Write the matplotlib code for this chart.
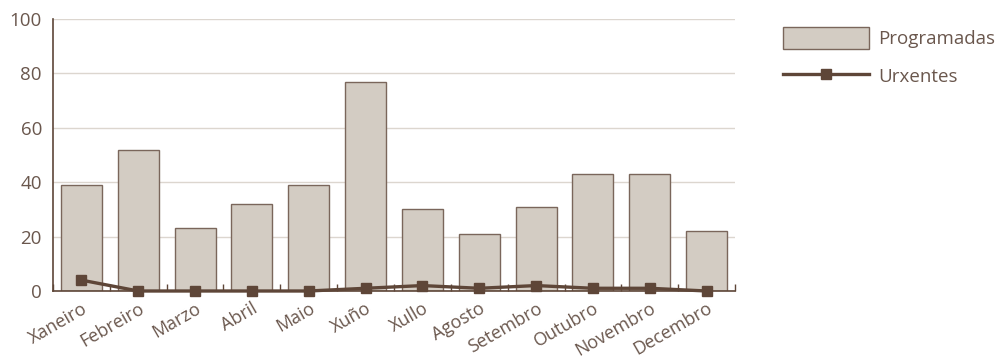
import numpy as np
import matplotlib.pyplot as plt

meses = ['Xaneiro', 'Febreiro', 'Marzo', 'Abril', 'Maio', 'Xuño',
         'Xullo', 'Agosto', 'Setembro', 'Outubro', 'Novembro', 'Decembro']
programadas = [39, 52, 23, 32, 39, 77, 30, 21, 31, 43, 43, 22]
urxentes = [4, 0, 0, 0, 0, 1, 2, 1, 2, 1, 1, 0]

txt = '#6a574d'
dark = '#5e4638'
plt.rcParams['font.family'] = ['Open Sans', 'DejaVu Sans']

fig = plt.figure(figsize=(9.98, 3.61), dpi=100)
ax = fig.add_axes([53/998, 1 - 291/361, (735-53)/998, (291-19)/361])

x = np.arange(len(meses))
b = ax.bar(x, programadas, width=0.72, color='#d3ccc3', edgecolor='#7a665b',
           linewidth=1.0, label='Programadas', zorder=2)
l, = ax.plot(x, urxentes, color=dark, linewidth=2.4, marker='s', markersize=6.5,
             label='Urxentes', zorder=3, clip_on=False)

ax.set_xlim(-0.5, len(meses) - 0.5)
ax.set_ylim(0, 100)
ax.set_yticks([0, 20, 40, 60, 80, 100])
ax.yaxis.grid(True, color='#dcd6cf', linewidth=1.0)
ax.set_axisbelow(True)
ax.tick_params(axis='y', length=0, pad=8, labelsize=13.5, labelcolor=txt)

ax.set_xticks(x)
ax.set_xticklabels(meses, rotation=30, ha='right', rotation_mode='anchor')
ax.tick_params(axis='x', which='major', length=0, pad=6, labelsize=13, labelcolor=txt)
ax.set_xticks(np.arange(-0.5, len(meses)), minor=True)
ax.tick_params(axis='x', which='minor', direction='in', length=5, color=dark, width=1)

for s in ['top', 'right']:
    ax.spines[s].set_visible(False)
for s in ['left', 'bottom']:
    ax.spines[s].set_color(dark)
    ax.spines[s].set_linewidth(1.2)

fig.legend([b, l], ['Programadas', 'Urxentes'], loc='upper left',
           bbox_to_anchor=(766/998, 1 - 10/361), frameon=False,
           handlelength=4.6, handleheight=1.45, labelspacing=0.85, handletextpad=0.5,
           fontsize=13.5, labelcolor=txt)

fig.savefig('out.png', dpi=100)
